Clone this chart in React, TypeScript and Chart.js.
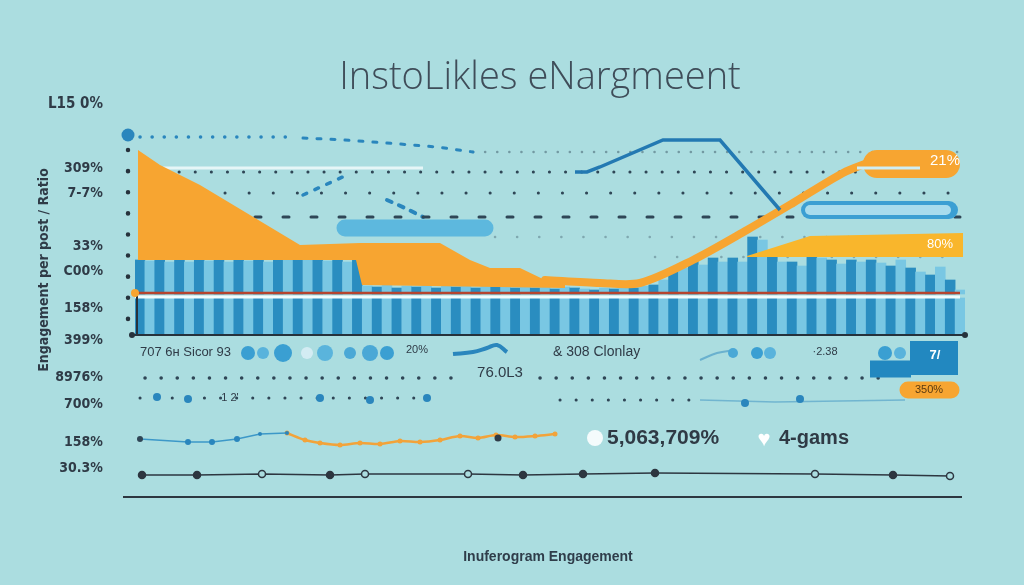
import React, { useEffect, useRef } from "react";
import { Chart, registerables } from "chart.js";
Chart.register(...registerables);

type P = { x: number; y: number };

// ---------- DATA (x: position index along the timeline, y: engagement index) ----------
const stripeTops = [
  240, 239, 241, 238, 240, 238, 241, 239, 240, 238, 242, 239, 241, 238, 242, 240, 243, 240, 242, 239, 241, 238, 240,
  214, 213, 215, 212, 214, 213, 215, 212, 214, 213, 215, 212, 214, 213, 215, 212, 214, 212, 213, 211, 213, 212, 211, 210, 212, 211, 213, 212, 214,
  215, 220, 228, 232, 240, 235, 242, 238, 242, 238, 263, 260, 247, 238, 238, 234, 245, 242, 240, 236, 240, 238, 240, 237, 234, 240, 232, 228, 225, 233, 220, 210,
];
const stripeLabels = stripeTops.map((_, i) => `P${i + 1}`);
const upperBase = 206;
const lowerBandLow = 166;
const lowerBandHigh = 202;

const orangeAreaTop: P[] = [
  { x: 3, y: 350 }, { x: 25, y: 335 }, { x: 65, y: 315 }, { x: 115, y: 285 }, { x: 165, y: 255 },
  { x: 225, y: 257 }, { x: 305, y: 257 }, { x: 335, y: 240 }, { x: 355, y: 232 }, { x: 385, y: 232 },
  { x: 410, y: 220 }, { x: 430, y: 215 },
];
const orangeAreaBase: P[] = [
  { x: 3, y: 240 }, { x: 221, y: 240 }, { x: 227, y: 215 }, { x: 430, y: 212 },
];
const orangeRise: P[] = [
  { x: 410, y: 220 }, { x: 465, y: 217 }, { x: 505, y: 217 }, { x: 558, y: 240 }, { x: 612, y: 270 },
  { x: 658, y: 297 }, { x: 708, y: 327 }, { x: 735, y: 338 },
];
const orangeBand: P[] = [{ x: 742, y: 336 }, { x: 811, y: 336 }];
const orangeBandInner: P[] = [{ x: 722, y: 332 }, { x: 785, y: 332 }];
const orange80Top: P[] = [{ x: 612, y: 244 }, { x: 675, y: 264 }, { x: 828, y: 267 }];
const orange80Bottom: P[] = [{ x: 612, y: 243 }, { x: 828, y: 243 }];

const blueLine: P[] = [
  { x: 440, y: 328 }, { x: 452, y: 328 }, { x: 465, y: 333 }, { x: 528, y: 360 }, { x: 585, y: 360 }, { x: 645, y: 290 },
];
const bluePillLeft: P[] = [{ x: 210, y: 272 }, { x: 350, y: 272 }];
const blueOutlinePill: P[] = [{ x: 675, y: 290 }, { x: 814, y: 290 }];
const blueOutlineInner: P[] = [{ x: 675, y: 290 }, { x: 811, y: 290 }];

const redLine: P[] = [{ x: 0, y: 207 }, { x: 825, y: 207 }];
const whiteLine: P[] = [{ x: 0, y: 203 }, { x: 825, y: 203 }];
const xAxisLine: P[] = [{ x: -3, y: 165 }, { x: 830, y: 165 }];
const yAxisLine: P[] = [{ x: 2, y: 207 }, { x: 2, y: 165 }];
const axisTickColumn: P[] = [{ x: -7, y: 350 }, { x: -7, y: 180 }];
const axisEndDots: P[] = [{ x: -3, y: 165 }, { x: 830, y: 165 }];
const axisOrangeDot: P[] = [{ x: 0, y: 207 }];
const bigBlueDot: P[] = [{ x: -7, y: 365 }];

const rowTopA: P[] = [{ x: 5, y: 363 }, { x: 160, y: 363 }];
const rowTopBlue: P[] = [{ x: 168, y: 362 }, { x: 210, y: 360 }, { x: 252, y: 357 }, { x: 302, y: 353 }, { x: 338, y: 348 }];
const rowTopB: P[] = [{ x: 338, y: 348 }, { x: 825, y: 348 }];
const rowWhite: P[] = [{ x: 28, y: 332 }, { x: 288, y: 332 }];
const row328: P[] = [{ x: 28, y: 328 }, { x: 825, y: 328 }];
const row307: P[] = [{ x: 90, y: 307 }, { x: 825, y: 307 }];
const row283: P[] = [{ x: 120, y: 283 }, { x: 825, y: 283 }];
const row263: P[] = [{ x: 360, y: 263 }, { x: 825, y: 263 }];
const row243: P[] = [{ x: 520, y: 243 }, { x: 825, y: 243 }];
const curveUp: P[] = [{ x: 168, y: 305 }, { x: 190, y: 315 }, { x: 212, y: 325 }];
const curveDown: P[] = [{ x: 252, y: 300 }, { x: 270, y: 292 }, { x: 288, y: 283 }];

const iconRow: P[] = [
  { x: 113, y: 147 }, { x: 128, y: 147 }, { x: 148, y: 147 }, { x: 172, y: 147 }, { x: 190, y: 147 },
  { x: 215, y: 147 }, { x: 235, y: 147 }, { x: 252, y: 147 },
  { x: 598, y: 147 }, { x: 622, y: 147 }, { x: 635, y: 147 }, { x: 750, y: 147 }, { x: 765, y: 147 },
];
const iconSizes = [7, 6, 9, 6, 8, 6, 8, 7, 5, 6, 6, 7, 6];
const iconColors = ["#3a9fd2", "#59b3dc", "#3a9fd2", "#d3ecf3", "#5ab4dc", "#4aa8d6", "#4aa8d6", "#3a9fd2", "#4aa8d6", "#3a9fd2", "#59b3dc", "#3a9fd2", "#59b3dc"];
const blueSquiggle: P[] = [{ x: 318, y: 146 }, { x: 338, y: 148 }, { x: 352, y: 152 }, { x: 362, y: 155 }, { x: 372, y: 148 }];
const blueSquiggleRight: P[] = [{ x: 565, y: 140 }, { x: 582, y: 147 }, { x: 600, y: 150 }];
const blueBox: P[] = [{ x: 775, y: 142 }, { x: 823, y: 142 }];
const blueBoxFoot: P[] = [{ x: 735, y: 131 }, { x: 776, y: 131 }];
const orangePill: P[] = [{ x: 773, y: 110 }, { x: 816, y: 110 }];

const dots122a: P[] = [{ x: 10, y: 122 }, { x: 330, y: 122 }];
const dots122b: P[] = [{ x: 405, y: 122 }, { x: 745, y: 122 }];
const dots102a: P[] = [{ x: 5, y: 102 }, { x: 285, y: 102 }];
const dots102b: P[] = [{ x: 425, y: 100 }, { x: 565, y: 100 }];
const faint102: P[] = [{ x: 565, y: 100 }, { x: 640, y: 98 }, { x: 705, y: 99 }, { x: 770, y: 100 }];
const blueDrops: P[] = [
  { x: 22, y: 103 }, { x: 53, y: 101 }, { x: 185, y: 102 }, { x: 235, y: 100 }, { x: 292, y: 102 },
  { x: 610, y: 97 }, { x: 665, y: 101 },
];

const trendBlue: P[] = [{ x: 5, y: 61 }, { x: 53, y: 58 }, { x: 77, y: 58 }, { x: 102, y: 61 }, { x: 125, y: 66 }, { x: 152, y: 67 }];
const trendOrange: P[] = [
  { x: 152, y: 67 }, { x: 170, y: 60 }, { x: 185, y: 57 }, { x: 205, y: 55 }, { x: 225, y: 57 }, { x: 245, y: 56 },
  { x: 265, y: 59 }, { x: 285, y: 58 }, { x: 305, y: 60 }, { x: 325, y: 64 }, { x: 343, y: 62 }, { x: 361, y: 65 },
  { x: 380, y: 63 }, { x: 400, y: 64 }, { x: 420, y: 66 },
];
const trendDark: P[] = [{ x: 363, y: 62 }];
const whiteDot: P[] = [{ x: 460, y: 62 }];

const baselineTrend: P[] = [
  { x: 7, y: 25 }, { x: 62, y: 25 }, { x: 127, y: 26 }, { x: 195, y: 25 }, { x: 230, y: 26 }, { x: 333, y: 26 },
  { x: 388, y: 25 }, { x: 448, y: 26 }, { x: 520, y: 27 }, { x: 680, y: 26 }, { x: 758, y: 25 }, { x: 815, y: 24 },
];
const baselineOpen = [false, false, true, false, true, true, false, false, false, true, false, true];
const bottomLine: P[] = [{ x: -12, y: 3 }, { x: 827, y: 3 }];

const notes = [
  { x: 810, y: 339, text: "21%", color: "#ffffff", size: 15, weight: "normal", align: "center" },
  { x: 805, y: 256, text: "80%", color: "#ffffff", size: 13, weight: "normal", align: "center" },
  { x: 800, y: 145, text: "7/", color: "#ffffff", size: 13, weight: "bold", align: "center" },
  { x: 794, y: 110, text: "350%", color: "#5a3a10", size: 11, weight: "normal", align: "center" },
  { x: 5, y: 148, text: "707 6н Sicor 93", color: "#2f3b47", size: 13, weight: "normal", align: "left" },
  { x: 282, y: 150, text: "20%", color: "#2f3b47", size: 11, weight: "normal", align: "center" },
  { x: 418, y: 148, text: "& 308 Clonlay", color: "#2f3b47", size: 14, weight: "normal", align: "left" },
  { x: 690, y: 148, text: "·2.38", color: "#2f3b47", size: 11, weight: "normal", align: "center" },
  { x: 365, y: 127, text: "76.0L3", color: "#2f3b47", size: 15, weight: "normal", align: "center" },
  { x: 95, y: 102, text: "1 2'", color: "#2f3b47", size: 11, weight: "normal", align: "center" },
  { x: 472, y: 62, text: "5,063,709%", color: "#2f3a45", size: 21, weight: "bold", align: "left" },
  { x: 629, y: 60, text: "♥", color: "#ffffff", size: 22, weight: "normal", align: "center" },
  { x: 644, y: 62, text: "4-gams", color: "#2f3a45", size: 20, weight: "bold", align: "left" },
];

const leftLabels = ["L15 0%", "309%", "7-7%", "33%", "C00%", "158%", "399%", "8976%", "700%", "158%", "30.3%"];
const leftLabelTops = [103, 168, 193, 246, 271, 308, 340, 377, 404, 442, 468];

// ---------- STYLE ----------
const BG = "#abdde0";
const DARK = "#2f4656";
const BLUE = "#2a86bd";
const ORANGE = "#f7a531";
const BAR_DARK = "#2a8dc0";
const BAR_LIGHT = "#79c7e3";

const notesPlugin = {
  id: "notes",
  afterDatasetsDraw(chart: any) {
    const { ctx, scales } = chart;
    ctx.save();
    for (const n of notes) {
      const px = scales.x.getPixelForValue(n.x);
      const py = scales.y.getPixelForValue(n.y);
      ctx.font = `${n.weight} ${n.size}px "Liberation Sans", Arial, sans-serif`;
      ctx.fillStyle = n.color;
      ctx.textAlign = n.align as CanvasTextAlign;
      ctx.textBaseline = "middle";
      ctx.fillText(n.text, px, py);
    }
    ctx.restore();
  },
};

function line(data: P[], color: string, width: number, order: number, extra: any = {}) {
  return {
    type: "line",
    data,
    borderColor: color,
    backgroundColor: color,
    borderWidth: width,
    pointRadius: 0,
    xAxisID: "x",
    yAxisID: "y",
    fill: false,
    clip: false,
    order,
    ...extra,
  };
}
function dots(data: P[], color: string, width: number, gap: number, order: number, extra: any = {}) {
  return line(data, color, width, order, { borderDash: [0.1, gap], borderCapStyle: "round", ...extra });
}
function points(data: P[], color: any, radius: number | number[], order: number) {
  return {
    type: "bubble",
    data: data.map((p, i) => ({ x: p.x, y: p.y, r: Array.isArray(radius) ? radius[i] : radius })),
    backgroundColor: color,
    borderWidth: 0,
    xAxisID: "x",
    yAxisID: "y",
    clip: false,
    order,
  };
}
// a single round dot drawn as a zero-length round-capped stroke (works outside the plot area)
function capDot(p: P, color: string, diameter: number, order: number) {
  return line([p, { x: p.x + 0.01, y: p.y }], color, diameter, order, { borderCapStyle: "round" });
}

export default function App() {
  const ref = useRef<HTMLCanvasElement>(null);
  useEffect(() => {
    const stripeColors = stripeTops.map((_, i) => (i % 2 === 0 ? BAR_DARK : BAR_LIGHT));
    const datasets: any[] = [
      // background dotted rows
      dots(rowTopA, BLUE, 3.5, 12, 20),
      line(rowTopBlue, BLUE, 3, 20, { borderDash: [4, 10], borderCapStyle: "round" }),
      dots(rowTopB, "rgba(47,70,86,0.45)", 2.5, 12, 20),
      dots(row328, DARK, 3, 16, 20),
      line(rowWhite, "rgba(236,248,250,0.9)", 3, 19),
      dots(row307, DARK, 3, 24, 20),
      line(row283, DARK, 3, 20, { borderDash: [6, 22], borderCapStyle: "round" }),
      dots(row263, "rgba(47,70,86,0.35)", 2.5, 22, 20),
      dots(row243, "rgba(47,70,86,0.35)", 2.5, 22, 20),
      line(curveUp, BLUE, 3.5, 20, { borderDash: [4, 9], borderCapStyle: "round" }),
      line(curveDown, BLUE, 4, 20, { borderDash: [5, 8], borderCapStyle: "round" }),
      // bars
      {
        type: "bar",
        data: stripeTops.map((t) => [upperBase, t]),
        backgroundColor: stripeColors,
        xAxisID: "xb",
        yAxisID: "y",
        barPercentage: 1,
        categoryPercentage: 1,
        grouped: false,
        borderWidth: 0,
        order: 12,
      },
      {
        type: "bar",
        data: stripeTops.map(() => [lowerBandLow, lowerBandHigh]),
        backgroundColor: stripeColors,
        xAxisID: "xb",
        yAxisID: "y",
        barPercentage: 1,
        categoryPercentage: 1,
        grouped: false,
        borderWidth: 0,
        order: 12,
      },
      line(whiteLine, "#f2fbfc", 3, 6),
      line(redLine, "#b5442f", 2.5, 5),
      line(xAxisLine, "#26323c", 2, 5),
      line(yAxisLine, "#26323c", 2, 5),
      dots(axisTickColumn, "#26323c", 4.5, 21, 5),
      capDot(axisEndDots[0], "#26323c", 6, 5),
      capDot(axisEndDots[1], "#26323c", 6, 5),
      points(axisOrangeDot, ORANGE, 4, 4),
      capDot(bigBlueDot[0], BLUE, 13, 4),
      // orange area
      line(orangeAreaTop, ORANGE, 0, 7, { fill: "+1", backgroundColor: ORANGE }),
      line(orangeAreaBase, "transparent", 0, 7),
      // pills
      line(bluePillLeft, "#5db8de", 17, 6, { borderCapStyle: "round" }),
      line(blueOutlinePill, "#3b9fd3", 18, 6, { borderCapStyle: "round" }),
      line(blueOutlineInner, "#a8dced", 10, 5, { borderCapStyle: "round" }),
      line(orange80Top, ORANGE, 0, 3, { fill: "+1", backgroundColor: "#f9b62c" }),
      line(orange80Bottom, "transparent", 0, 3),
      line(orangeRise, ORANGE, 8, 3, { tension: 0.3, borderCapStyle: "round" }),
      line(orangeBand, ORANGE, 28, 3, { borderCapStyle: "round" }),
      line(orangeBandInner, "#cfeef5", 3, 2),
      line(blueLine, "#2379b2", 3.5, 1),
      // lower section
      points(iconRow, iconColors, iconSizes, 1),
      line(blueSquiggle, BLUE, 4, 1, { tension: 0.4 }),
      line(blueSquiggleRight, "rgba(42,134,189,0.5)", 2, 1, { tension: 0.4 }),
      line(blueBoxFoot, "#2288c0", 17, 1),
      line(blueBox, "#2288c0", 34, 1),
      line(orangePill, ORANGE, 17, 1, { borderCapStyle: "round" }),
      dots(dots122a, DARK, 3.5, 16, 2),
      dots(dots122b, DARK, 3.5, 16, 2),
      dots(dots102a, DARK, 3, 16, 2),
      dots(dots102b, DARK, 3, 16, 2),
      line(faint102, "rgba(42,134,189,0.45)", 1.5, 2),
      points(blueDrops, BLUE, 4, 1),
      line(trendBlue, "#3c98c8", 1.5, 1, {
        pointRadius: [3, 3, 3, 3, 2, 2],
        pointBackgroundColor: ["#2f4656", "#2a86bd", "#2a86bd", "#2a86bd", "#2a86bd", "#2a86bd"],
        pointBorderWidth: 0,
      }),
      line(trendOrange, "#f2a33a", 2.5, 1, { tension: 0.3, pointRadius: 2.5, pointBackgroundColor: "#f2a33a", pointBorderWidth: 0 }),
      points(trendDark, "#2f3b47", 3.5, 0),
      points(whiteDot, "#f4fbfc", 8, 0),
      line(baselineTrend, "#2d3640", 1.5, 1, {
        pointRadius: 3.5,
        pointBackgroundColor: baselineOpen.map((o) => (o ? BG : "#2d3640")),
        pointBorderColor: "#2d3640",
        pointBorderWidth: 1.5,
      }),
      line(bottomLine, "#2d3640", 2, 1),
    ];

    const chart = new Chart(ref.current!, {
      type: "bar",
      data: { labels: stripeLabels, datasets },
      options: {
        responsive: false,
        animation: false,
        devicePixelRatio: 1,
        layout: { padding: { left: 135, right: 59, top: 125, bottom: 85 } },
        plugins: { legend: { display: false }, tooltip: { enabled: false } },
        scales: {
          x: { type: "linear", min: 0, max: 830, display: false, offset: false },
          xb: { type: "category", labels: stripeLabels, display: false, offset: true },
          y: { type: "linear", min: 0, max: 375, display: false, offset: false },
        },
      } as any,
      plugins: [notesPlugin],
    } as any);
    return () => chart.destroy();
  }, []);

  const labelFont = '"DejaVu Sans Condensed", "Liberation Sans Narrow", "Liberation Sans", sans-serif';
  return (
    <div style={{ position: "absolute", left: 0, top: 0, width: 1024, height: 585, background: BG, overflow: "hidden" }}>
      <canvas ref={ref} width={1024} height={585} style={{ position: "absolute", left: 0, top: 0, width: 1024, height: 585 }} />
      <div
        style={{
          position: "absolute",
          left: 540,
          top: 48,
          transform: "translateX(-50%)",
          whiteSpace: "nowrap",
          fontFamily: '"Open Sans", Lato, sans-serif',
          fontWeight: 300,
          fontSize: 38,
          color: "#3f4d59",
        }}
      >
        InstoLikles eNargmeent
      </div>
      {leftLabels.map((t, i) => (
        <div
          key={i}
          style={{
            position: "absolute",
            right: 1024 - 103,
            top: leftLabelTops[i] - 9,
            fontFamily: labelFont,
            fontWeight: 600,
            fontSize: i === 0 ? 15 : 14,
            color: "#2f3b47",
            whiteSpace: "nowrap",
          }}
        >
          {t}
        </div>
      ))}
      <div
        style={{
          position: "absolute",
          left: 43,
          top: 270,
          transform: "translate(-50%, -50%) rotate(-90deg)",
          whiteSpace: "nowrap",
          fontFamily: labelFont,
          fontWeight: 600,
          fontSize: 14,
          color: "#2f3b47",
        }}
      >
        Engagement per post / Ratio
      </div>
      <div
        style={{
          position: "absolute",
          left: 548,
          top: 548,
          transform: "translateX(-50%)",
          whiteSpace: "nowrap",
          fontFamily: '"Liberation Sans", Arial, sans-serif',
          fontWeight: 600,
          fontSize: 14,
          color: "#2f3d4a",
        }}
      >
        Inuferogram Engagement
      </div>
    </div>
  );
}
